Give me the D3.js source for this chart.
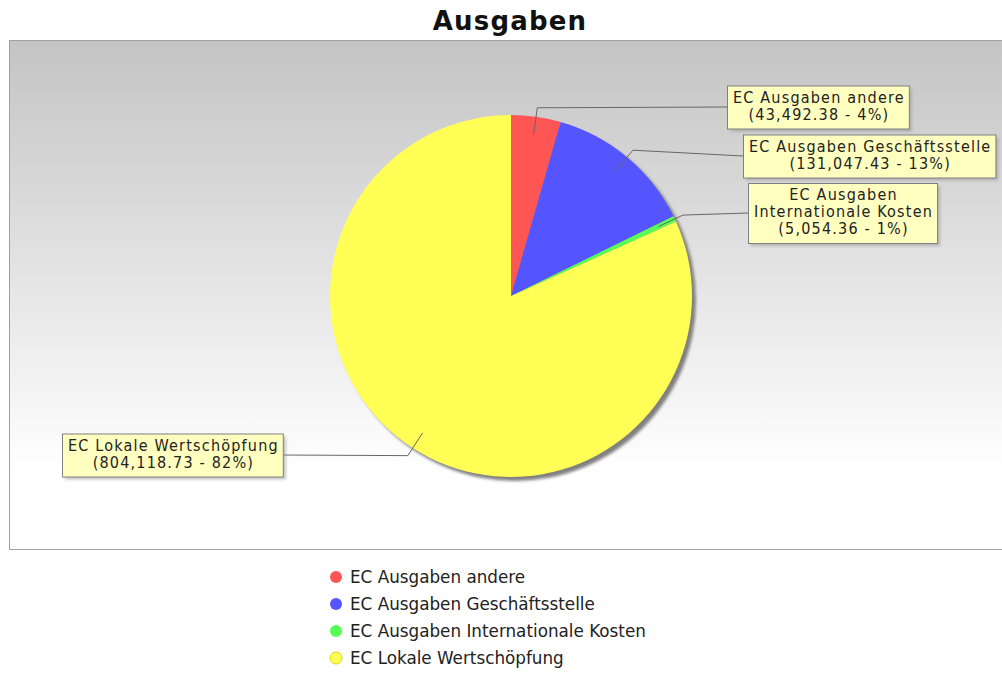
<!DOCTYPE html>
<html>
<head>
<meta charset="utf-8">
<script src="https://cdn.jsdelivr.net/npm/d3@7"></script>
<style>
  body { margin: 0; background: #fff; }
  svg { display: block; }
</style>
</head>
<body>
<script>
// data
const categories = ["EC Ausgaben andere", "EC Ausgaben Geschäftsstelle", "EC Ausgaben Internationale Kosten", "EC Lokale Wertschöpfung"];
const values = [43492.38, 131047.43, 5054.36, 804118.73];
const colors = ["#ff5555", "#5555ff", "#55ff55", "#ffff55"];
// label text lines as shown in the callouts
const labelLines = [
  ["EC Ausgaben andere", "(43,492.38 - 4%)"],
  ["EC Ausgaben Geschäftsstelle", "(131,047.43 - 13%)"],
  ["EC Ausgaben", "Internationale Kosten", "(5,054.36 - 1%)"],
  ["EC Lokale Wertschöpfung", "(804,118.73 - 82%)"]
];
// callout box placement (left x, center y)
const labelPos = [[727, 107], [743, 156], [748, 213], [62, 455]];

const width = 1002, height = 677;
const cx = 511, cy = 296, r = 181;

const svg = d3.select("body").append("svg")
  .attr("width", width)
  .attr("height", height);

const defs = svg.append("defs");
const grad = defs.append("linearGradient")
  .attr("id", "bg")
  .attr("x1", 0).attr("y1", 0).attr("x2", 0).attr("y2", 1);
grad.append("stop").attr("offset", "0%").attr("stop-color", "#c4c4c4");
grad.append("stop").attr("offset", "85%").attr("stop-color", "#ffffff");
grad.append("stop").attr("offset", "100%").attr("stop-color", "#ffffff");

defs.append("filter").attr("id", "blur")
  .append("feGaussianBlur").attr("stdDeviation", 1.5);

// title
svg.append("text")
  .attr("x", 510)
  .attr("y", 30)
  .attr("text-anchor", "middle")
  .attr("font-family", "DejaVu Sans")
  .attr("font-weight", "bold")
  .attr("font-size", 26)
  .attr("letter-spacing", 1.2)
  .attr("fill", "#111")
  .text("Ausgaben");

// plot background
svg.append("rect")
  .attr("x", 9.5).attr("y", 40.5)
  .attr("width", 1010).attr("height", 509)
  .attr("fill", "url(#bg)")
  .attr("stroke", "#a0a0a0");

const pie = d3.pie().sort(null).value(d => d)
  .startAngle(0).endAngle(2 * Math.PI);
const arcs = pie(values);
const arc = d3.arc().innerRadius(0).outerRadius(r);

const g = svg.append("g").attr("transform", `translate(${cx},${cy})`);

// shadow
g.append("circle")
  .attr("cx", 4).attr("cy", 4).attr("r", r)
  .attr("fill", "#808080")
  .attr("filter", "url(#blur)");

g.selectAll("path.slice")
  .data(arcs)
  .join("path")
    .attr("class", "slice")
    .attr("d", arc)
    .attr("fill", (d, i) => colors[i])
    .attr("stroke", "none");

// label links and callouts
const pt = (a, rr) => [Math.sin(a) * rr, -Math.cos(a) * rr];
arcs.forEach((d, i) => {
  const mid = (d.startAngle + d.endAngle) / 2;
  const p0 = pt(mid, r * 0.9);
  const p1 = pt(mid, r * 1.05);
  const right = p1[0] > 0;
  const lines = labelLines[i];
  const boxH = lines.length * 17 + 9;
  const [bx, by] = labelPos[i];

  const lbl = svg.append("g");
  const t = lbl.append("text")
    .attr("font-family", "DejaVu Sans Condensed, DejaVu Sans")
    .attr("font-size", 16)
    .attr("letter-spacing", 1.2)
    .attr("fill", "#222")
    .attr("text-anchor", "middle");
  lines.forEach((s, k) => t.append("tspan").attr("x", 0).attr("dy", k === 0 ? 0 : 17).text(s));
  const w = t.node().getBBox().width + 10;
  const x0 = bx;
  const y0 = by - boxH / 2;

  const edgeX = right ? x0 : x0 + w;
  g.append("path")
    .attr("d", d3.line()([p0, p1, [edgeX - cx, by - cy]]))
    .attr("fill", "none")
    .attr("stroke", "#666")
    .attr("stroke-width", 1);

  lbl.insert("rect", "text")
    .attr("x", x0 + 3).attr("y", y0 + 3)
    .attr("width", w).attr("height", boxH)
    .attr("fill", "#999").attr("opacity", 0.6)
    .attr("filter", "url(#blur)");
  lbl.insert("rect", "text")
    .attr("x", x0 + 0.5).attr("y", y0 + 0.5)
    .attr("width", w).attr("height", boxH)
    .attr("fill", "#ffffc0")
    .attr("stroke", "#808080");
  t.attr("transform", `translate(${x0 + w / 2 + 1},${y0 + 17})`);
});

// legend
const legend = svg.append("g").attr("transform", "translate(336,577)");
const item = legend.selectAll("g")
  .data(categories)
  .join("g")
    .attr("transform", (d, i) => `translate(0,${i * 27})`);
item.append("circle")
  .attr("r", 6)
  .attr("fill", (d, i) => colors[i])
  .attr("stroke", (d, i) => i === 3 ? "#d8d800" : "none");
item.append("text")
  .attr("x", 14)
  .attr("dy", "0.35em")
  .attr("font-family", "DejaVu Sans")
  .attr("font-size", 16.8)
  .attr("fill", "#222")
  .text(d => d);
</script>
</body>
</html>
